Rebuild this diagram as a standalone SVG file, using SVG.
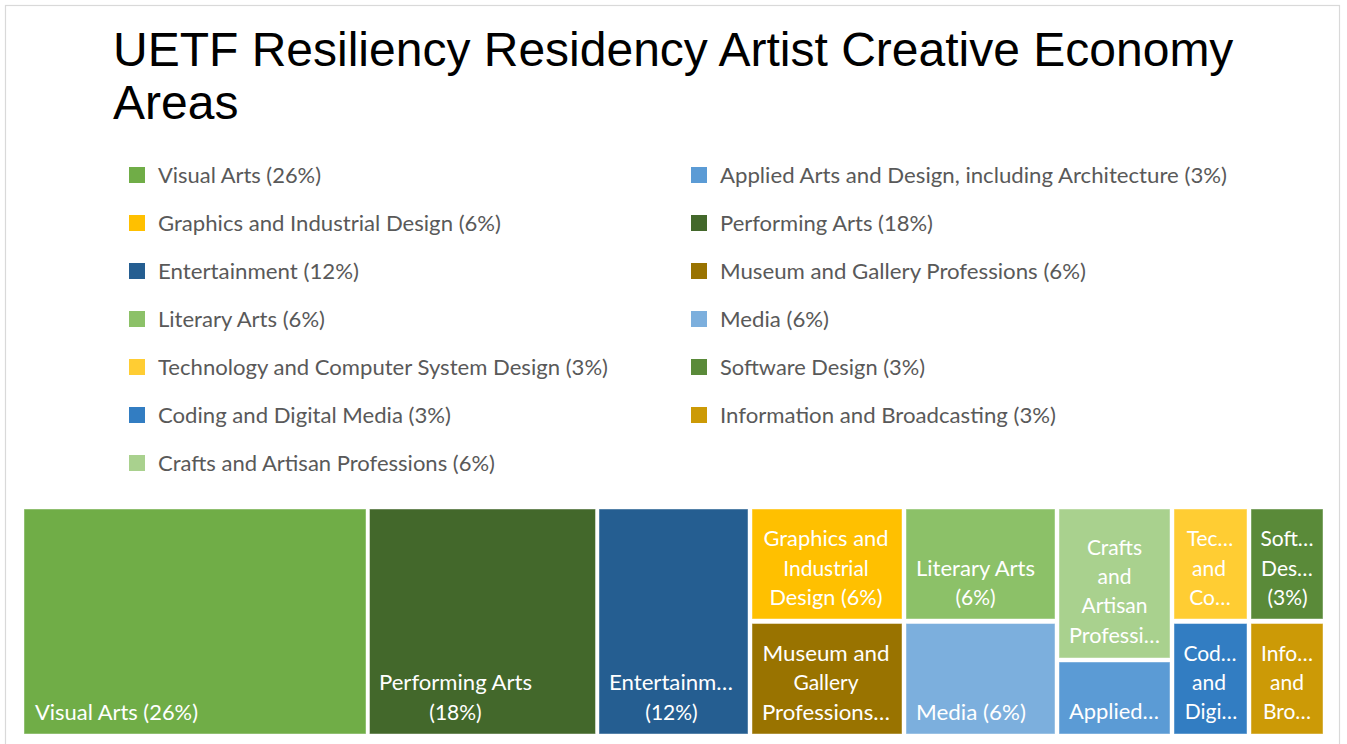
<svg xmlns="http://www.w3.org/2000/svg" width="1347" height="744" viewBox="0 0 1347 744">
<style>
.title{font-family:"Liberation Sans",Arial,sans-serif;font-size:48px;fill:#000}
.lg{font-family:Lato,"Open Sans",sans-serif;font-size:21px;fill:#595959}
.lb{font-family:Lato,"Open Sans",sans-serif;font-size:21px;fill:#fff}
.c{text-anchor:middle}
.box{stroke:#ffffff;stroke-opacity:0.45;stroke-width:1}
</style>
<rect width="1347" height="744" fill="#fff"/>
<rect x="5.5" y="5.5" width="1334" height="760" fill="none" stroke="#d9d9d9" stroke-width="1.2"/>
<g id="title">
<text class="title" x="113" y="66">UETF Resiliency Residency Artist Creative Economy</text>
<text class="title" x="113" y="119">Areas</text>
</g>
<g id="legend">
<g id="lg-visual"><rect x="129" y="167" width="16" height="16" fill="#70AD47"/><text class="lg" x="158" y="183" textLength="163" lengthAdjust="spacingAndGlyphs">Visual Arts (26%)</text></g>
<g id="lg-graphics"><rect x="129" y="215" width="16" height="16" fill="#FFC000"/><text class="lg" x="158" y="231" textLength="343" lengthAdjust="spacingAndGlyphs">Graphics and Industrial Design (6%)</text></g>
<g id="lg-entertainment"><rect x="129" y="263" width="16" height="16" fill="#255E91"/><text class="lg" x="158" y="279" textLength="201" lengthAdjust="spacingAndGlyphs">Entertainment (12%)</text></g>
<g id="lg-literary"><rect x="129" y="311" width="16" height="16" fill="#8CC168"/><text class="lg" x="158" y="327" textLength="167" lengthAdjust="spacingAndGlyphs">Literary Arts (6%)</text></g>
<g id="lg-technology"><rect x="129" y="359" width="16" height="16" fill="#FFCD33"/><text class="lg" x="158" y="375" textLength="450" lengthAdjust="spacingAndGlyphs">Technology and Computer System Design (3%)</text></g>
<g id="lg-coding"><rect x="129" y="407" width="16" height="16" fill="#327DC2"/><text class="lg" x="158" y="423" textLength="293" lengthAdjust="spacingAndGlyphs">Coding and Digital Media (3%)</text></g>
<g id="lg-crafts"><rect x="129" y="455" width="16" height="16" fill="#A9D18E"/><text class="lg" x="158" y="471" textLength="337" lengthAdjust="spacingAndGlyphs">Crafts and Artisan Professions (6%)</text></g>
<g id="lg-applied"><rect x="691" y="167" width="16" height="16" fill="#5B9BD5"/><text class="lg" x="720" y="183" textLength="507" lengthAdjust="spacingAndGlyphs">Applied Arts and Design, including Architecture (3%)</text></g>
<g id="lg-performing"><rect x="691" y="215" width="16" height="16" fill="#43682B"/><text class="lg" x="720" y="231" textLength="213" lengthAdjust="spacingAndGlyphs">Performing Arts (18%)</text></g>
<g id="lg-museum"><rect x="691" y="263" width="16" height="16" fill="#997300"/><text class="lg" x="720" y="279" textLength="366" lengthAdjust="spacingAndGlyphs">Museum and Gallery Professions (6%)</text></g>
<g id="lg-media"><rect x="691" y="311" width="16" height="16" fill="#7CAFDD"/><text class="lg" x="720" y="327" textLength="109" lengthAdjust="spacingAndGlyphs">Media (6%)</text></g>
<g id="lg-software"><rect x="691" y="359" width="16" height="16" fill="#5A8A39"/><text class="lg" x="720" y="375" textLength="205" lengthAdjust="spacingAndGlyphs">Software Design (3%)</text></g>
<g id="lg-information"><rect x="691" y="407" width="16" height="16" fill="#CC9A06"/><text class="lg" x="720" y="423" textLength="336" lengthAdjust="spacingAndGlyphs">Information and Broadcasting (3%)</text></g>
</g>
<g id="connectors"></g>
<g id="treemap">
<g id="visual-arts"><rect class="box" x="24" y="509" width="342" height="225" fill="#70AD47"/><text class="lb" x="35" y="720" textLength="163" lengthAdjust="spacingAndGlyphs">Visual Arts (26%)</text></g>
<g id="performing-arts"><rect class="box" x="369.5" y="509" width="226" height="225" fill="#43682B"/><text class="lb c" x="455.5" y="690" textLength="153" lengthAdjust="spacingAndGlyphs">Performing Arts</text><text class="lb c" x="455.5" y="720">(18%)</text></g>
<g id="entertainment"><rect class="box" x="599" y="509" width="149" height="225" fill="#255E91"/><text class="lb c" x="671" y="690" textLength="124" lengthAdjust="spacingAndGlyphs">Entertainm…</text><text class="lb c" x="671.5" y="720">(12%)</text></g>
<g id="graphics"><rect class="box" x="752" y="509" width="150" height="110" fill="#FFC000"/><text class="lb c" x="826" y="546" textLength="125" lengthAdjust="spacingAndGlyphs">Graphics and</text><text class="lb c" x="826" y="575.5">Industrial</text><text class="lb c" x="826" y="605" textLength="113" lengthAdjust="spacingAndGlyphs">Design (6%)</text></g>
<g id="museum"><rect class="box" x="752" y="623.5" width="150" height="110.5" fill="#997300"/><text class="lb c" x="826" y="661" textLength="127" lengthAdjust="spacingAndGlyphs">Museum and</text><text class="lb c" x="826" y="690">Gallery</text><text class="lb c" x="826" y="720" textLength="128" lengthAdjust="spacingAndGlyphs">Professions…</text></g>
<g id="literary-arts"><rect class="box" x="906" y="509" width="149" height="110" fill="#8CC168"/><text class="lb c" x="975.5" y="575.5" textLength="119" lengthAdjust="spacingAndGlyphs">Literary Arts</text><text class="lb c" x="975.5" y="605">(6%)</text></g>
<g id="media"><rect class="box" x="906" y="623.5" width="149" height="110.5" fill="#7CAFDD"/><text class="lb" x="916" y="720" textLength="110" lengthAdjust="spacingAndGlyphs">Media (6%)</text></g>
<g id="crafts"><rect class="box" x="1059" y="509" width="111" height="149" fill="#A9D18E"/><text class="lb c" x="1114.5" y="555">Crafts</text><text class="lb c" x="1114.5" y="584">and</text><text class="lb c" x="1114.5" y="613">Artisan</text><text class="lb c" x="1114.5" y="643" textLength="91" lengthAdjust="spacingAndGlyphs">Professi…</text></g>
<g id="applied"><rect class="box" x="1059" y="662" width="111" height="72" fill="#5B9BD5"/><text class="lb c" x="1114" y="719" textLength="90" lengthAdjust="spacingAndGlyphs">Applied…</text></g>
<g id="technology"><rect class="box" x="1174" y="509" width="73" height="110" fill="#FFCD33"/><text class="lb c" x="1210" y="546">Tec…</text><text class="lb c" x="1209" y="575.5">and</text><text class="lb c" x="1210" y="605">Co…</text></g>
<g id="coding"><rect class="box" x="1174" y="623.5" width="73" height="110.5" fill="#327DC2"/><text class="lb c" x="1210" y="661">Cod…</text><text class="lb c" x="1209" y="690">and</text><text class="lb c" x="1211" y="719">Digi…</text></g>
<g id="software"><rect class="box" x="1251" y="509" width="72" height="110" fill="#5A8A39"/><text class="lb c" x="1287" y="546">Soft…</text><text class="lb c" x="1287" y="575.5">Des…</text><text class="lb c" x="1287.5" y="605">(3%)</text></g>
<g id="information"><rect class="box" x="1251" y="623.5" width="72" height="110.5" fill="#CC9A06"/><text class="lb c" x="1287" y="661">Info…</text><text class="lb c" x="1287" y="690">and</text><text class="lb c" x="1287" y="719">Bro…</text></g>
</g>
</svg>
